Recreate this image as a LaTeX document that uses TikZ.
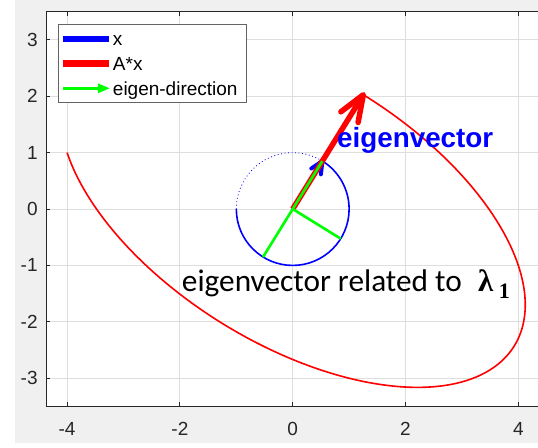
\documentclass[tikz,border=0pt]{standalone}
\usepackage{fontspec}
\setmainfont{Liberation Sans}
\newfontfamily\calib{Carlito}
\newfontfamily\serifb{Liberation Serif}
\usetikzlibrary{arrows.meta}
\definecolor{figbg}{RGB}{240,240,240}
\definecolor{gridc}{RGB}{222,222,222}
\definecolor{axc}{RGB}{38,38,38}
\definecolor{mblue}{RGB}{0,0,255}
\definecolor{mred}{RGB}{255,0,0}
\definecolor{mgreen}{RGB}{0,255,0}
\definecolor{legc}{RGB}{100,100,100}
\tikzset{
  gridline/.style={gridc, line width=1pt},
  axisline/.style={axc, line width=0.9pt},
  ticklab/.style={inner sep=0pt, text=axc, font=\fontsize{19}{19}\selectfont},
  legtext/.style={inner sep=0pt, anchor=base west, text=black, font=\fontsize{19}{19}\selectfont},
  redarrow/.style={mred, line width=5.5pt, line cap=round, line join=round},
  bluearrow/.style={mblue, line width=4pt, line cap=round, line join=round},
  eigenline/.style={mgreen, line width=2.6pt},
}
\begin{document}
\begin{tikzpicture}[x=56.4pt,y=56.4pt]
\useasboundingbox (-5.190,-4.220) rectangle (4.349,3.706);
\fill[white] (-5.190,-4.220) rectangle (4.349,3.706);
\fill[figbg] (-4.924,-4.149) rectangle (4.349,3.706);
% axes area
\fill[white] (-4.375,-3.5) rectangle (4.375,3.5);
\foreach \x in {-4,-2,0,2,4} \draw[gridline] (\x,-3.5) -- (\x,3.5);
\foreach \y in {-3,...,3} \draw[gridline] (-4.375,\y) -- (4.375,\y);
\draw[axisline] (4.375,3.5) -- (-4.375,3.5) -- (-4.375,-3.5) -- (4.375,-3.5) -- cycle;
\foreach \x in {-4,-2,0,2,4} {
  \draw[axisline] (\x,-3.5) -- ++(0,0.075);
  \draw[axisline] (\x,3.5) -- ++(0,-0.075);
  \node[ticklab] (xl\x) at (\x,-3.90) {\x};
}
\foreach \y in {-3,...,3} {
  \draw[axisline] (-4.375,\y) -- ++(0.075,0);
  \node[ticklab, anchor=east] (yl\y) at (-4.52,\y) {\y};
}
% A*x trace
\draw[mred, line width=1.6pt] plot[domain=180:418.28, samples=240, smooth]
  ({4*cos(\x)-sin(\x)},{-cos(\x)+3*sin(\x)});
% unit circle
\draw[mblue, line width=0.8pt, dash pattern=on 0.9pt off 2.6pt] (58.28:1) arc[start angle=58.28, end angle=180, radius=1];
\draw[mblue, line width=1.6pt] (180:1) arc[start angle=180, end angle=418.28, radius=1];
% vectors
\coordinate (O) at (0,0);
\coordinate (V) at (0.5257,0.8507);
\coordinate (Vm) at (-0.5257,-0.8507);
\coordinate (W) at (0.8507,-0.5257);
\coordinate (B1) at (0.3300,0.7180);
\coordinate (B2) at (0.5000,0.6150);
\coordinate (T) at (1.2523,2.0264);
\coordinate (R1) at (0.8544,1.7236);
\coordinate (R2) at (1.1593,1.5351);
\draw[bluearrow, line cap=butt] (O) -- (V);
\draw[bluearrow] (B1) -- (V) -- (B2);
\draw[redarrow, line cap=butt] (O) -- (T);
\draw[redarrow] (R1) -- (T) -- (R2);
\draw[eigenline] (Vm) -- (V);
\draw[eigenline] (O) -- (W);
% texts
\node[inner sep=0pt, anchor=base west, text=mblue, font=\fontsize{27.8}{28}\selectfont\bfseries] (ev) at (0.785,1.082) {eigenvector};
\node[inner sep=0pt, anchor=base west, text=black, font=\fontsize{31.3}{32}\selectfont\calib] (rel) at (-1.968,-1.454) {eigenvector related to};
\node[inner sep=0pt, anchor=base west, text=black, font=\fontsize{31}{32}\selectfont\serifb\bfseries] (lam) at (3.285,-1.454) {λ};
\node[inner sep=0pt, anchor=base west, text=black, font=\fontsize{22}{22}\selectfont\serifb\bfseries] (sub) at (3.650,-1.585) {1};
% legend
\draw[legc, fill=white, line width=0.8pt] (-4.149,1.897) rectangle (-0.828,3.280);
\coordinate (La) at (-4.067,3.014); \coordinate (Lb) at (-3.257,3.014);
\coordinate (Lc) at (-4.067,2.583); \coordinate (Ld) at (-3.257,2.583);
\coordinate (Le) at (-4.067,2.140); \coordinate (Lf) at (-3.240,2.140);
\draw[mblue, line width=6.5pt] (La) -- (Lb);
\draw[mred, line width=6.5pt] (Lc) -- (Ld);
\draw[mgreen, line width=2.6pt, -{Triangle[length=12pt,width=9pt]}] (Le) -- (Lf);
\node[legtext] (lx) at (-3.191,2.908) {x};
\node[legtext] (lax) at (-3.191,2.452) {A*x};
\node[legtext] (led) at (-3.191,2.009) {eigen-direction};
\end{tikzpicture}
\end{document}
